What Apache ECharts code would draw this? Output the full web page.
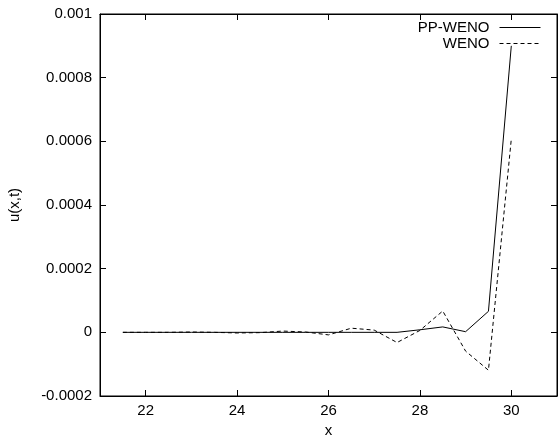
<!DOCTYPE html>
<html>
<head>
<meta charset="UTF-8">
<title>u(x,t)</title>
<script src="https://cdn.jsdelivr.net/npm/echarts@6/dist/echarts.min.js"></script>
<style>
  html, body { margin: 0; padding: 0; background: #fff; }
  #main { width: 558px; height: 437px; }
</style>
</head>
<body>
<div id="main"></div>
<script>
// data
var xs = [21.5, 22, 22.5, 23, 23.5, 24, 24.5, 25, 25.5, 26, 26.5, 27, 27.5, 28, 28.5, 29, 29.5, 30];
var ppWeno = [0, 0, 0, 0, 0, 0, 0, 0, 0, 0, 0, 0, 0, 0.000008, 0.000017, 0.000002, 0.000066, 0.0009];
var weno = [0, 0, 0, 0.000001, 0, -0.000002, -0.000001, 0.000004, 0.000001, -0.000008, 0.000013, 0.000007, -0.000032, 0.000006, 0.000067, -0.000059, -0.000119, 0.000607];
var xTicks = [22, 24, 26, 28, 30];
var seriesNames = ['PP-WENO', 'WENO'];

function pairs(v) {
  var out = [];
  for (var i = 0; i < xs.length; i++) out.push([xs[i], v[i]]);
  return out;
}

var font = 'Liberation Sans, Arial, sans-serif';
var black = '#000';
var fs = 15;

var chart = echarts.init(document.getElementById('main'), null, { renderer: 'canvas' });

// gnuplot style: frame on all four sides, ticks pointing inward
function xAxisOf(pos, extra) {
  return Object.assign({
    type: 'value', min: 21, max: 31, position: pos,
    axisLine: { show: true, onZero: false, lineStyle: { color: black, width: 1 } },
    axisTick: { show: true, inside: true, length: 6, customValues: xTicks, lineStyle: { color: black } },
    axisLabel: { show: false },
    splitLine: { show: false }
  }, extra || {});
}
function yAxisOf(pos, extra) {
  return Object.assign({
    type: 'value', min: -0.0002, max: 0.001, interval: 0.0002, position: pos,
    axisLine: { show: true, onZero: false, lineStyle: { color: black, width: 1 } },
    axisTick: { show: true, inside: true, length: 6, lineStyle: { color: black } },
    axisLabel: { show: false },
    splitLine: { show: false }
  }, extra || {});
}

chart.setOption({
  animation: false,
  backgroundColor: '#fff',
  grid: {
    left: 100, top: 14, right: 1, bottom: 41, containLabel: false, outerBoundsMode: 'none',
    show: true, borderColor: black, borderWidth: 1, backgroundColor: 'transparent'
  },
  legend: {
    orient: 'vertical',
    right: 12, top: 15,
    align: 'right',
    itemWidth: 41, itemHeight: 14, itemGap: 1,
    itemStyle: { opacity: 0 },
    lineStyle: { width: 1 },
    textStyle: { fontFamily: font, fontSize: fs, color: black, padding: [0, 5, 0, 0] },
    data: seriesNames
  },
  xAxis: [
    xAxisOf('bottom', {
      name: 'x', nameLocation: 'middle', nameGap: 27,
      nameTextStyle: { fontFamily: font, fontSize: fs, color: black },
      axisLabel: { show: true, customValues: xTicks, margin: 7, fontFamily: font, fontSize: fs, color: black }
    }),
    xAxisOf('top')
  ],
  yAxis: [
    yAxisOf('left', {
      name: 'u(x,t)', nameLocation: 'middle', nameGap: 78,
      nameTextStyle: { fontFamily: font, fontSize: fs, color: black },
      axisLabel: {
        show: true, margin: 8, fontFamily: font, fontSize: fs, color: black,
        formatter: function (v) { return String(+v.toFixed(4)); }
      }
    }),
    yAxisOf('right')
  ],
  series: [
    {
      name: seriesNames[0], type: 'line', data: pairs(ppWeno),
      symbol: 'none', color: black,
      lineStyle: { color: black, width: 1, type: 'solid' }
    },
    {
      name: seriesNames[1], type: 'line', data: pairs(weno),
      symbol: 'none', color: black,
      lineStyle: { color: black, width: 1, type: [4, 3] }
    }
  ]
});
</script>
</body>
</html>
